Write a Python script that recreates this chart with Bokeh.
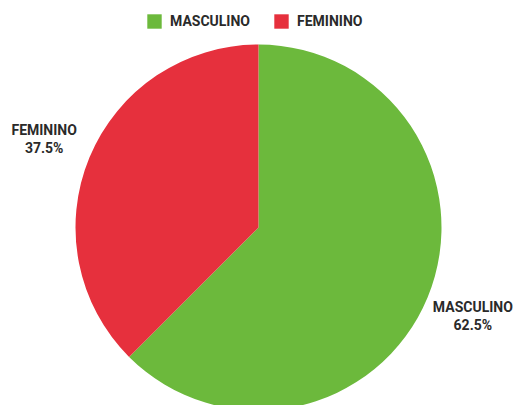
import math
from bokeh.plotting import figure
from bokeh.models import ColumnDataSource, Legend, LegendItem
from bokeh.core.properties import value
from bokeh.embed import file_html
from bokeh.resources import INLINE

categories = ["MASCULINO", "FEMININO"]
percents = [62.5, 37.5]
colors = ["#6cb93c", "#e6303d"]

W, H = 513, 405
CX, CY, R = 258, 178, 183
LABEL_R = 232

# angles: start at top, clockwise
starts, ends, mids = [], [], []
acc = 0.0
for pct in percents:
    a0 = math.radians(90 - acc * 3.6)
    acc += pct
    a1 = math.radians(90 - acc * 3.6)
    starts.append(a0)
    ends.append(a1)
    mids.append((a0 + a1) / 2)

src = ColumnDataSource(dict(
    cat=categories, pct=percents, color=colors,
    start=starts, end=ends,
    x=[CX] * len(categories), y=[CY] * len(categories),
))

lab = ColumnDataSource(dict(
    x=[CX + LABEL_R * math.cos(m) for m in mids],
    y=[CY + LABEL_R * math.sin(m) for m in mids],
    name=categories,
    pct=[f"{v:.1f}%" for v in percents],
))

p = figure(width=W, height=H, x_range=(0, W), y_range=(0, H),
           output_backend="svg", toolbar_location=None, min_border=0,
           background_fill_color="white", border_fill_color="white",
           outline_line_color=None)
p.axis.visible = False
p.grid.visible = False

r = p.wedge(x="x", y="y", radius=R, start_angle="start", end_angle="end",
            direction="clock", fill_color="color", line_color=None, source=src)

font = value("Roboto")
p.text(x="x", y="y", text="name", source=lab, text_align="center",
       text_baseline="middle", y_offset=-9, text_font=font,
       text_font_style="bold", text_font_size="14px", text_color="#2a2a2a")
p.text(x="x", y="y", text="pct", source=lab, text_align="center",
       text_baseline="middle", y_offset=9, text_font=font,
       text_font_style="bold", text_font_size="14px", text_color="#2a2a2a")

legend = Legend(items=[LegendItem(label=c, renderers=[r], index=i)
                       for i, c in enumerate(categories)],
                orientation="horizontal", location=(145, 375),
                glyph_width=18, glyph_height=18, label_standoff=7, spacing=22,
                padding=0, margin=0, border_line_alpha=0,
                background_fill_alpha=0, label_text_font="Roboto",
                label_text_font_style="bold", label_text_font_size="14px",
                label_text_color="#2a2a2a", label_height=18)
p.add_layout(legend, "center")

open("out.html", "w").write(file_html(p, INLINE))
